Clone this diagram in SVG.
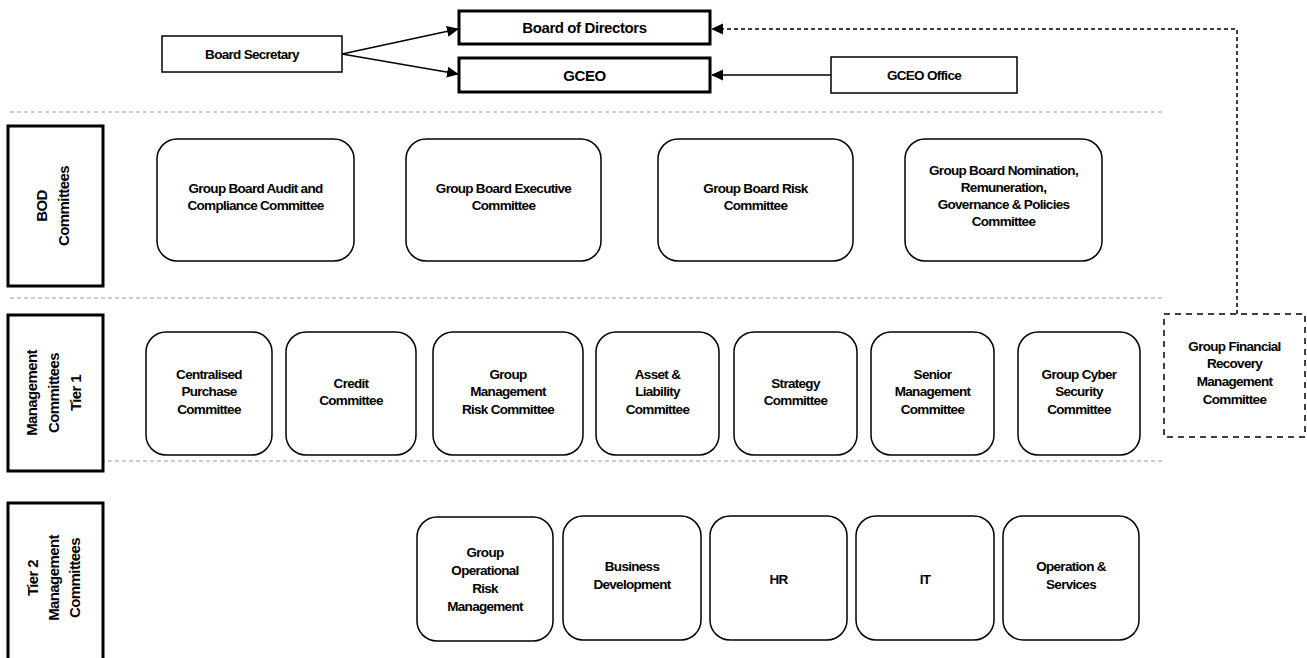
<svg xmlns="http://www.w3.org/2000/svg" width="1307" height="658" viewBox="0 0 1307 658">
<style>
.t{font-family:"Liberation Sans",Arial,sans-serif;font-weight:bold;font-size:13.5px;fill:#000;text-anchor:middle;letter-spacing:-0.7px}
.big{font-size:15px;letter-spacing:-0.4px}
.side{font-size:15px;letter-spacing:-0.6px}
.box{fill:#fff;stroke:#000;stroke-width:1.5}
.hbox{fill:#fff;stroke:#000;stroke-width:3}
.rb{fill:#fff;stroke:#000;stroke-width:1.5}
.sep{stroke:#999;stroke-width:1;stroke-dasharray:4,3;fill:none}
.con{stroke:#000;stroke-width:1.5;fill:none}
.dcon{stroke:#000;stroke-width:1.5;fill:none;stroke-dasharray:4,3}
</style>
<defs>
<marker id="ah" markerWidth="12" markerHeight="12" refX="11" refY="6" orient="auto" markerUnits="userSpaceOnUse">
<path d="M0,0.5 L12,6 L0,11.5 z" fill="#000"/>
</marker>
</defs>
<rect width="1307" height="658" fill="#fff"/>
<g id="separators">
<line class="sep" x1="10" y1="112" x2="1165" y2="112"/>
<line class="sep" x1="10" y1="298" x2="1165" y2="298"/>
<line class="sep" x1="10" y1="461" x2="1165" y2="461"/>
</g>
<g id="connectors">
<line class="con" x1="342" y1="54" x2="458" y2="29" marker-end="url(#ah)"/>
<line class="con" x1="342" y1="54" x2="458" y2="74" marker-end="url(#ah)"/>
<line class="con" x1="831" y1="75" x2="712" y2="75" marker-end="url(#ah)"/>
<polyline class="dcon" points="1237,314 1237,29 712,29" marker-end="url(#ah)"/>
</g>
<g id="board-secretary"><rect class="box" x="162" y="36" width="180" height="36"/><text class="t" x="252" y="59">Board Secretary</text></g>
<g id="board-of-directors"><rect class="hbox" x="459" y="11" width="251" height="33"/><text class="t big" x="584.5" y="33">Board of Directors</text></g>
<g id="gceo"><rect class="hbox" x="459" y="58" width="251" height="34"/><text class="t big" x="584.5" y="81">GCEO</text></g>
<g id="gceo-office"><rect class="box" x="831" y="57" width="186" height="36"/><text class="t" x="924" y="80">GCEO Office</text></g>

<g id="label-bod"><rect class="hbox" x="8" y="126" width="95" height="160"/><text class="t side" transform="translate(47,206) rotate(-90)"><tspan x="0" y="0">BOD</tspan><tspan x="0" y="22">Committees</tspan></text></g>
<g id="label-tier1"><rect class="hbox" x="8" y="315" width="95" height="156"/><text class="t side" transform="translate(37,393) rotate(-90)"><tspan x="0" y="0">Management</tspan><tspan x="0" y="22">Committees</tspan><tspan x="0" y="44">Tier 1</tspan></text></g>
<g id="label-tier2"><rect class="hbox" x="8" y="503" width="95" height="170"/><text class="t side" transform="translate(38,578) rotate(-90)"><tspan x="0" y="0">Tier 2</tspan><tspan x="0" y="21">Management</tspan><tspan x="0" y="42">Committees</tspan></text></g>

<g id="bod-audit"><rect class="rb" x="157" y="139" width="197" height="122" rx="20"/><text class="t"><tspan x="255.5" y="193">Group Board Audit and</tspan><tspan x="255.5" y="210">Compliance Committee</tspan></text></g>
<g id="bod-exec"><rect class="rb" x="406" y="139" width="195" height="122" rx="20"/><text class="t"><tspan x="503.5" y="193">Group Board Executive</tspan><tspan x="503.5" y="210">Committee</tspan></text></g>
<g id="bod-risk"><rect class="rb" x="658" y="139" width="195" height="122" rx="20"/><text class="t"><tspan x="755.5" y="193">Group Board Risk</tspan><tspan x="755.5" y="210">Committee</tspan></text></g>
<g id="bod-nomination"><rect class="rb" x="905" y="139" width="197" height="122" rx="20"/><text class="t"><tspan x="1003.5" y="175">Group Board Nomination,</tspan><tspan x="1003.5" y="192">Remuneration,</tspan><tspan x="1003.5" y="209">Governance &amp; Policies</tspan><tspan x="1003.5" y="226">Committee</tspan></text></g>

<g id="t1-centralised"><rect class="rb" x="146" y="332" width="126" height="123" rx="20"/><text class="t"><tspan x="209" y="379">Centralised</tspan><tspan x="209" y="396">Purchase</tspan><tspan x="209" y="414">Committee</tspan></text></g>
<g id="t1-credit"><rect class="rb" x="286" y="332" width="130" height="123" rx="20"/><text class="t"><tspan x="351" y="388">Credit</tspan><tspan x="351" y="405">Committee</tspan></text></g>
<g id="t1-gmrc"><rect class="rb" x="433" y="332" width="150" height="123" rx="20"/><text class="t"><tspan x="508" y="379">Group</tspan><tspan x="508" y="396">Management</tspan><tspan x="508" y="414">Risk Committee</tspan></text></g>
<g id="t1-alco"><rect class="rb" x="596" y="332" width="123" height="123" rx="20"/><text class="t"><tspan x="657.5" y="379">Asset &amp;</tspan><tspan x="657.5" y="396">Liability</tspan><tspan x="657.5" y="414">Committee</tspan></text></g>
<g id="t1-strategy"><rect class="rb" x="734" y="332" width="123" height="123" rx="20"/><text class="t"><tspan x="795.5" y="388">Strategy</tspan><tspan x="795.5" y="405">Committee</tspan></text></g>
<g id="t1-senior"><rect class="rb" x="871" y="332" width="123" height="123" rx="20"/><text class="t"><tspan x="932.5" y="379">Senior</tspan><tspan x="932.5" y="396">Management</tspan><tspan x="932.5" y="414">Committee</tspan></text></g>
<g id="t1-cyber"><rect class="rb" x="1018" y="332" width="122" height="123" rx="20"/><text class="t"><tspan x="1079" y="379">Group Cyber</tspan><tspan x="1079" y="396">Security</tspan><tspan x="1079" y="414">Committee</tspan></text></g>
<g id="t1-financial-recovery"><rect class="box" x="1164" y="314" width="141" height="123" stroke-dasharray="6,5"/><text class="t"><tspan x="1234.5" y="351">Group Financial</tspan><tspan x="1234.5" y="368">Recovery</tspan><tspan x="1234.5" y="386">Management</tspan><tspan x="1234.5" y="404">Committee</tspan></text></g>

<g id="t2-oprisk"><rect class="rb" x="417" y="517" width="136" height="124" rx="20"/><text class="t"><tspan x="485" y="557">Group</tspan><tspan x="485" y="575">Operational</tspan><tspan x="485" y="593">Risk</tspan><tspan x="485" y="611">Management</tspan></text></g>
<g id="t2-bizdev"><rect class="rb" x="563" y="516" width="138" height="124" rx="20"/><text class="t"><tspan x="632" y="571">Business</tspan><tspan x="632" y="589">Development</tspan></text></g>
<g id="t2-hr"><rect class="rb" x="710" y="516" width="137" height="124" rx="20"/><text class="t" x="778.5" y="584">HR</text></g>
<g id="t2-it"><rect class="rb" x="856" y="516" width="138" height="124" rx="20"/><text class="t" x="925" y="584">IT</text></g>
<g id="t2-ops"><rect class="rb" x="1003" y="516" width="136" height="124" rx="20"/><text class="t"><tspan x="1071" y="571">Operation &amp;</tspan><tspan x="1071" y="589">Services</tspan></text></g>
</svg>
